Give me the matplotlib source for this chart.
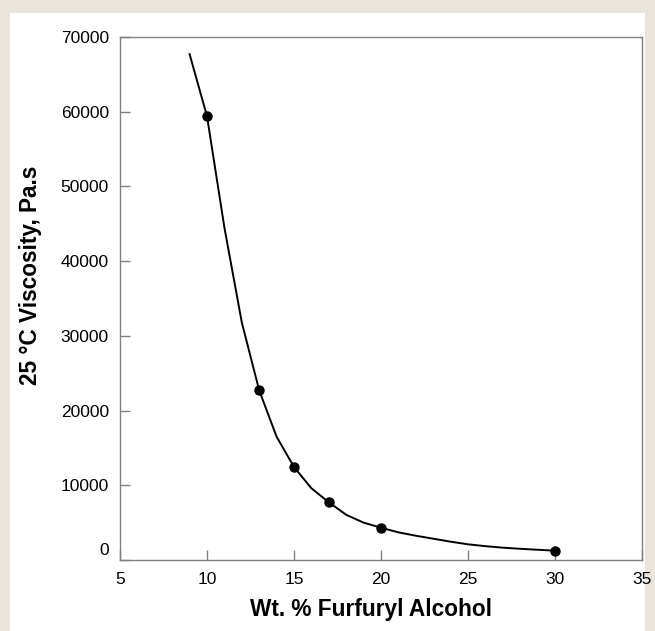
import numpy as np
import matplotlib
matplotlib.use("Agg")
import matplotlib.pyplot as plt
import matplotlib.transforms as mtransforms
from matplotlib.patches import Rectangle

plt.rcParams['font.family'] = ['Liberation Sans', 'DejaVu Sans']

# measured points
pts_x = [10, 13, 15, 17, 20, 30]
pts_y = [59400, 22700, 12450, 7730, 4320, 1250]

# fitted curve, read at whole percent steps
curve_x = [9, 10, 11, 12, 13, 14, 15, 16, 17, 18, 19, 20,
           21, 22, 23, 24, 25, 26, 27, 28, 29, 30]
curve_y = [67700, 59400, 44500, 31800, 22700, 16500, 12450, 9600, 7730, 6050, 5000, 4320,
           3700, 3250, 2850, 2450, 2100, 1850, 1650, 1500, 1370, 1250]

x_ticks = [5, 10, 15, 20, 25, 30, 35]
y_ticks = [0, 10000, 20000, 30000, 40000, 50000, 60000, 70000]

fig = plt.figure(figsize=(6.55, 6.31), dpi=100)
fig.patch.set_facecolor('#e9e5dd')
fig.patches.append(Rectangle((10 / 655, 0), 635 / 655, 1 - 13 / 631,
                             transform=fig.transFigure, facecolor='white',
                             edgecolor='none', zorder=-1))

ax = fig.add_axes([120 / 655, 1 - 560 / 631, 522 / 655, 523 / 631])
ax.set_zorder(2)
ax.plot(curve_x, curve_y, color='black', lw=1.4, zorder=2)
ax.plot(pts_x, pts_y, 'o', color='black', ms=6.5, zorder=3)

ax.set_xlim(5, 35)
ax.set_ylim(0, 70000)
ax.set_xticks(x_ticks)
ax.set_yticks(y_ticks)
ax.set_xticklabels([str(v) for v in x_ticks])
ax.set_yticklabels([str(v) for v in y_ticks])

for s in ax.spines.values():
    s.set_color('#808080')
    s.set_linewidth(1.0)
ax.tick_params(direction='in', length=7, width=1, color='#808080',
               labelsize=12.5, labelcolor='black', pad=8)
ax.tick_params(axis='x', pad=9)

# the "0" label sits a bit higher in the original
lbl = ax.yaxis.get_major_ticks()[0].label1
lbl.set_transform(lbl.get_transform() + mtransforms.ScaledTranslation(0, 8 / 72, fig.dpi_scale_trans))

ax.set_xlabel('Wt. % Furfuryl Alcohol', fontsize=16.3, fontweight='bold')
ax.set_ylabel('25 °C Viscosity, Pa.s', fontsize=16.3, fontweight='bold')
ax.xaxis.set_label_coords(0.48, -0.072)
ax.yaxis.set_label_coords(-0.149, 0.545)

fig.savefig('out.png', dpi=100, facecolor=fig.get_facecolor())
